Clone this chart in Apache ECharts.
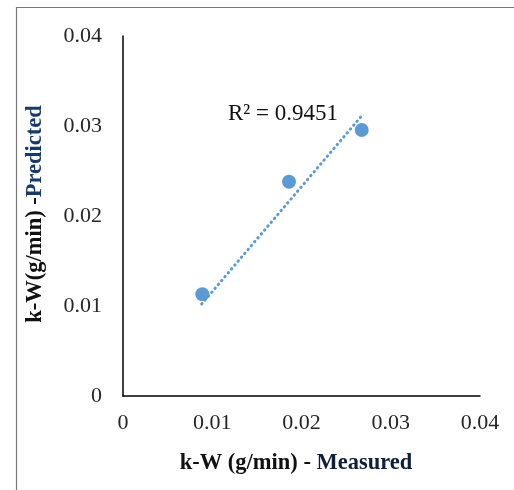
<!DOCTYPE html>
<html><head><meta charset="utf-8">
<script src="https://cdn.jsdelivr.net/npm/echarts@6/dist/echarts.min.js"></script>
<style>html,body{margin:0;padding:0;background:#fff}#c{width:514px;height:490px}</style>
</head><body><div id="c"></div>
<script>
const measured = [0.00889, 0.0186, 0.02675];
const predicted = [0.0113, 0.02381, 0.02956];
const trendX = [0.00882, 0.02675];
const trendY = [0.01022, 0.03114];
const tickValues = [0, 0.01, 0.02, 0.03, 0.04];
const r2Text = 'R² = 0.9451';

const chart = echarts.init(document.getElementById('c'), null, {renderer: 'canvas'});
const serif = '"Liberation Serif","Times New Roman",serif';
chart.setOption({
  animation: false,
  backgroundColor: '#fff',
  grid: {left: 123, top: 36, right: 34, bottom: 94, containLabel: false},
  xAxis: {
    type: 'value', min: tickValues[0], max: tickValues[tickValues.length-1], interval: 0.01,
    axisLine: {show: true, lineStyle: {color: '#000', width: 1.5}},
    axisTick: {show: false}, splitLine: {show: false},
    axisLabel: {fontFamily: serif, fontSize: 22, color: '#262626', margin: 16,
      formatter: v => v === 0 ? '0' : String(+v.toFixed(2))},
    name: '{a|k-W (g/min) - }{b|Measured}', nameLocation: 'middle', nameGap: 56,
    nameTextStyle: {padding: [0, 11, 0, 0], rich: {
      a: {fontFamily: serif, fontSize: 22.5, fontWeight: 'bold', color: '#111'},
      b: {fontFamily: serif, fontSize: 22.5, fontWeight: 'bold', color: '#0e1f3d'}}}
  },
  yAxis: {
    type: 'value', min: tickValues[0], max: tickValues[tickValues.length-1], interval: 0.01,
    axisLine: {show: true, lineStyle: {color: '#000', width: 1.5}},
    axisTick: {show: false}, splitLine: {show: false},
    axisLabel: {fontFamily: serif, fontSize: 22, color: '#262626', margin: 21,
      formatter: v => v === 0 ? '0' : String(+v.toFixed(2))},
    name: '{a|k-W(g/min) -}{b|Predicted}', nameLocation: 'middle', nameGap: 76, nameRotate: 90,
    nameTextStyle: {padding: [0, 0, 0, 4], rich: {
      a: {fontFamily: serif, fontSize: 22.5, fontWeight: 'bold', color: '#111'},
      b: {fontFamily: serif, fontSize: 22.5, fontWeight: 'bold', color: '#163a6b'}}}
  },
  series: [
    {type: 'line', data: trendX.map((x, i) => [x, trendY[i]]), symbol: 'none',
     lineStyle: {color: '#5B9BD5', width: 3, type: [0.5, 4.6], cap: 'round', opacity: 1}, z: 1},
    {type: 'scatter', data: measured.map((x, i) => [x, predicted[i]]), symbol: 'circle',
     symbolSize: 14, itemStyle: {color: '#5B9BD5', opacity: 1}, z: 2}
  ],
  graphic: [
    {type: 'rect', left: 14, top: 5, shape: {width: 520, height: 500},
     style: {fill: 'none', stroke: '#777', lineWidth: 1.2}, silent: true},
    {type: 'text', left: 228, top: 102,
     style: {text: r2Text, font: '23px ' + serif, fill: '#111'}}
  ]
});
</script></body></html>
